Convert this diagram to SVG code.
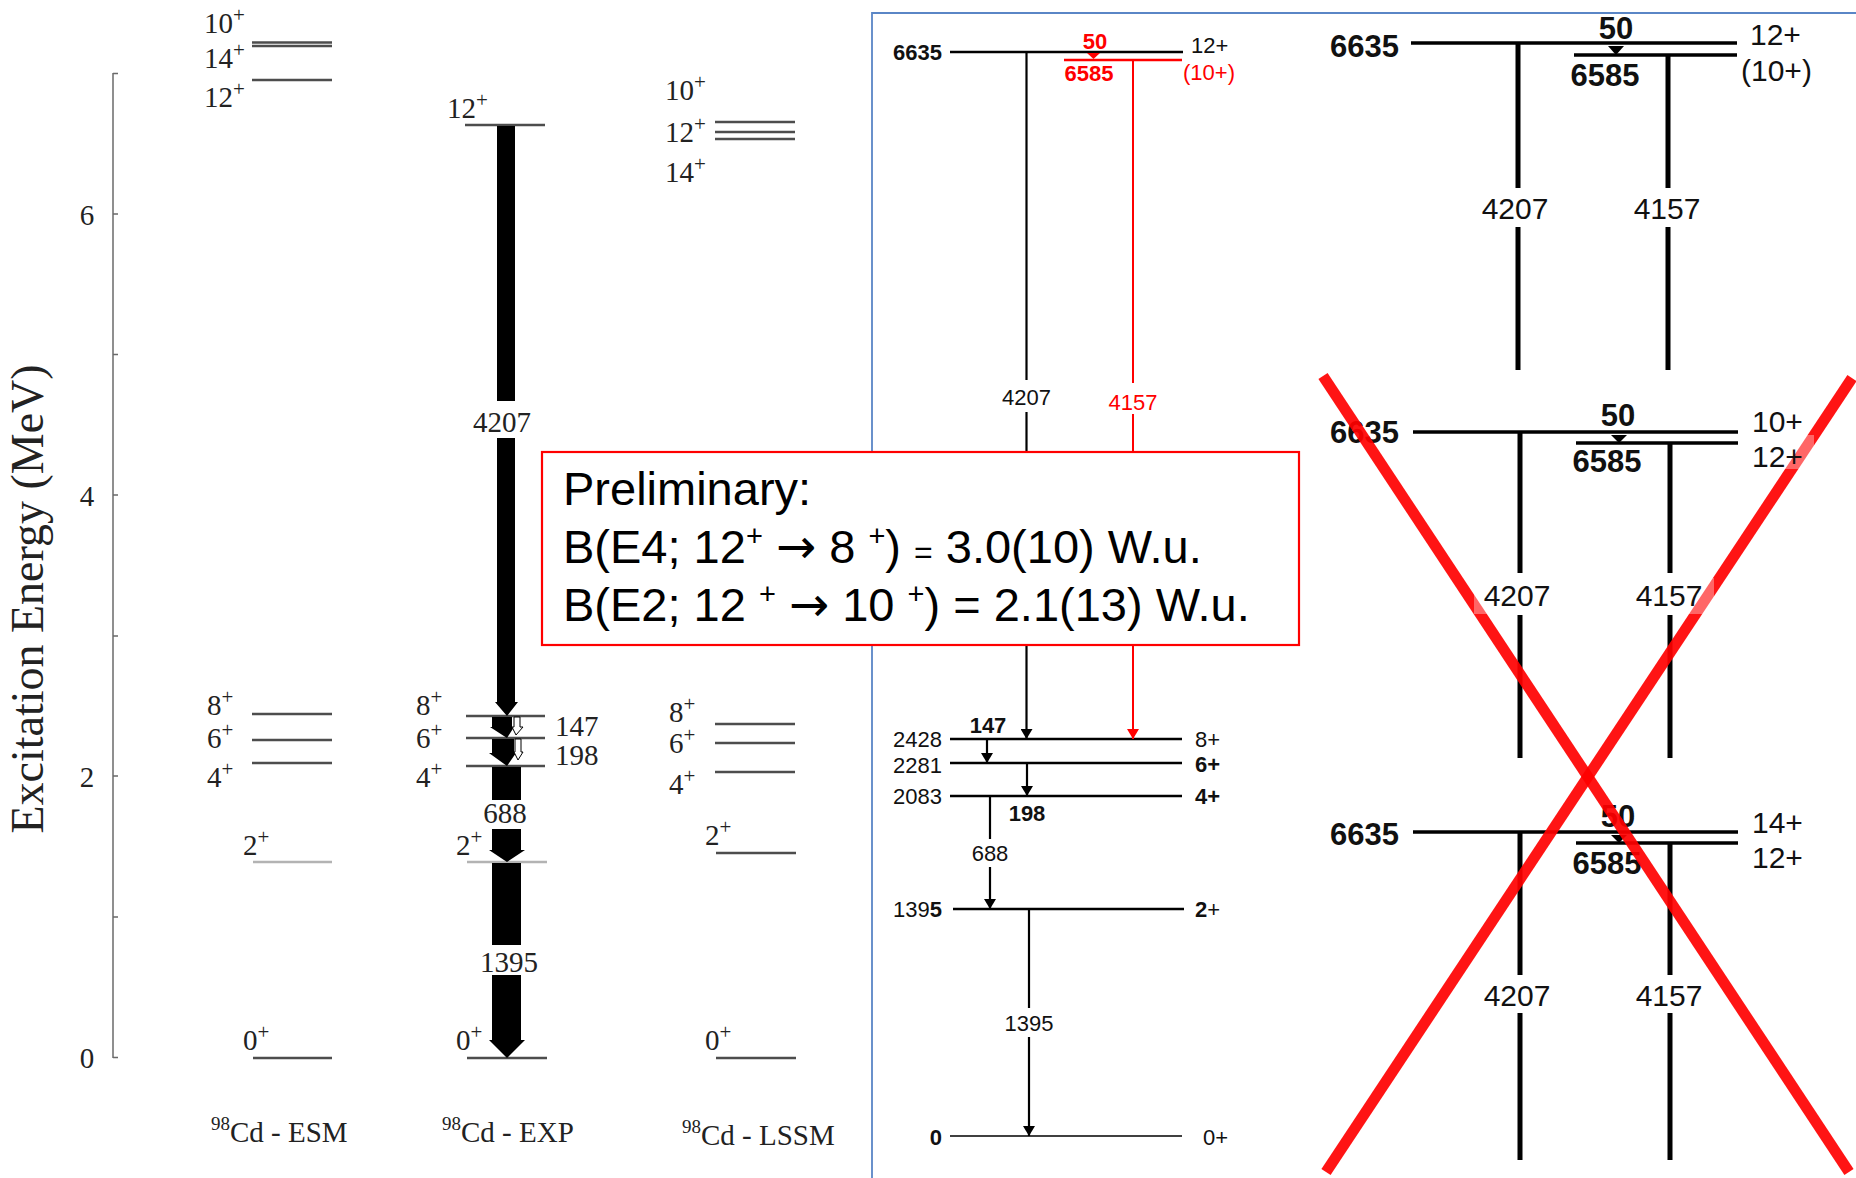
<svg xmlns="http://www.w3.org/2000/svg" width="1856" height="1178" viewBox="0 0 1856 1178">
<defs>
<style>
.bg{fill:#fff}
.ax{stroke:#6a6a6a;stroke-width:1.5;fill:none}
.lv{stroke:#4d4d4d;stroke-width:2.6}
.lvg{stroke:#b3b3b3;stroke-width:2.6}
.tm{font-family:"Liberation Serif","Times New Roman",serif;font-size:29px;fill:#222}
.tms{font-size:21px}
.ar{font-family:"Liberation Sans",Arial,sans-serif;fill:#111}
.m{font-size:22px}
.mb{font-size:22px;font-weight:bold}
.red{fill:#ff0000}
.ml{stroke:#000;stroke-width:2.4}
.mlr{stroke:#ff0000;stroke-width:2.4}
.tr{stroke:#000;stroke-width:2.2;fill:none}
.trr{stroke:#ff0000;stroke-width:2;fill:none}
.rl{stroke:#000;stroke-width:3.6}
.rv{stroke:#000;stroke-width:5}
.rt{font-size:30px}
.rb{font-size:31px;font-weight:bold}
.big{fill:#000}
.box{fill:#fff;stroke:#ff0000;stroke-width:2.2}
.bt{font-family:"Liberation Sans",Arial,sans-serif;font-size:47px;fill:#000}
.arw{font-family:"DejaVu Sans",sans-serif;font-size:48px}
.sp{font-size:29px}
.x{stroke:#ff0000;stroke-width:11;stroke-opacity:0.92}
.patch{fill:#fff;fill-opacity:0.35}
</style>
<marker id="ah" viewBox="0 0 10 12" refX="10" refY="6" markerWidth="10" markerHeight="12" markerUnits="userSpaceOnUse" orient="auto"><path d="M0,0 L10,6 L0,12 z" fill="#000"/></marker>
<marker id="ahr" viewBox="0 0 10 12" refX="10" refY="6" markerWidth="10" markerHeight="12" markerUnits="userSpaceOnUse" orient="auto"><path d="M0,0 L10,6 L0,12 z" fill="#ff0000"/></marker>
</defs>
<rect class="bg" x="0" y="0" width="1856" height="1178"/>

<!-- LEFT PANEL: axis -->
<g id="axis">
<line class="ax" x1="113" y1="73" x2="113" y2="1058"/>
<path class="ax" d="M113,1057.5h5M113,917h5M113,776h5M113,636h5M113,495h5M113,354.5h5M113,214h5M113,73.5h5"/>
<text class="tm" x="87" y="225" text-anchor="middle">6</text>
<text class="tm" x="87" y="506" text-anchor="middle">4</text>
<text class="tm" x="87" y="787" text-anchor="middle">2</text>
<text class="tm" x="87" y="1068" text-anchor="middle">0</text>
<text class="tm" style="font-size:46px" transform="translate(43,599) rotate(-90)" text-anchor="middle">Excitation Energy (MeV)</text>
</g>

<!-- ESM column -->
<g id="esm">
<line class="lv" x1="252" y1="42.5" x2="332" y2="42.5"/>
<line class="lv" x1="252" y1="46" x2="332" y2="46"/>
<line class="lv" x1="252" y1="80" x2="332" y2="80"/>
<line class="lv" x1="252" y1="714" x2="332" y2="714"/>
<line class="lv" x1="252" y1="740" x2="332" y2="740"/>
<line class="lv" x1="252" y1="763" x2="332" y2="763"/>
<line class="lvg" x1="253" y1="862" x2="332" y2="862"/>
<line class="lv" x1="253" y1="1058" x2="332" y2="1058"/>
<text class="tm" x="204" y="33">10<tspan class="tms" dy="-11">+</tspan></text>
<text class="tm" x="204" y="68">14<tspan class="tms" dy="-11">+</tspan></text>
<text class="tm" x="204" y="107">12<tspan class="tms" dy="-11">+</tspan></text>
<text class="tm" x="207" y="715">8<tspan class="tms" dy="-11">+</tspan></text>
<text class="tm" x="207" y="748">6<tspan class="tms" dy="-11">+</tspan></text>
<text class="tm" x="207" y="787">4<tspan class="tms" dy="-11">+</tspan></text>
<text class="tm" x="243" y="855">2<tspan class="tms" dy="-11">+</tspan></text>
<text class="tm" x="243" y="1050">0<tspan class="tms" dy="-11">+</tspan></text>
<text class="tm" x="211" y="1142"><tspan style="font-size:19px" dy="-12">98</tspan><tspan dy="12">Cd - ESM</tspan></text>
</g>

<!-- EXP column -->
<g id="exp">
<line class="lv" x1="465" y1="125" x2="545" y2="125"/>
<line class="lv" x1="466" y1="716" x2="545" y2="716"/>
<line class="lv" x1="466" y1="738" x2="545" y2="738"/>
<line class="lv" x1="466" y1="766" x2="545" y2="766"/>
<line class="lvg" x1="467" y1="862" x2="547" y2="862"/>
<line class="lv" x1="467" y1="1058" x2="547" y2="1058"/>
<text class="tm" x="447" y="118">12<tspan class="tms" dy="-11">+</tspan></text>
<text class="tm" x="416" y="715">8<tspan class="tms" dy="-11">+</tspan></text>
<text class="tm" x="416" y="748">6<tspan class="tms" dy="-11">+</tspan></text>
<text class="tm" x="416" y="787">4<tspan class="tms" dy="-11">+</tspan></text>
<text class="tm" x="456" y="855">2<tspan class="tms" dy="-11">+</tspan></text>
<text class="tm" x="456" y="1050">0<tspan class="tms" dy="-11">+</tspan></text>
<text class="tm" x="442" y="1142"><tspan style="font-size:19px" dy="-12">98</tspan><tspan dy="12">Cd - EXP</tspan></text>
</g>

<!-- LSSM column -->
<g id="lssm">
<line class="lv" x1="715" y1="122" x2="795" y2="122"/>
<line class="lv" x1="715" y1="132" x2="795" y2="132"/>
<line class="lv" x1="715" y1="139" x2="795" y2="139"/>
<line class="lv" x1="715" y1="724" x2="795" y2="724"/>
<line class="lv" x1="715" y1="743" x2="795" y2="743"/>
<line class="lv" x1="715" y1="772" x2="795" y2="772"/>
<line class="lv" x1="716" y1="853" x2="796" y2="853"/>
<line class="lv" x1="716" y1="1058" x2="796" y2="1058"/>
<text class="tm" x="665" y="100">10<tspan class="tms" dy="-11">+</tspan></text>
<text class="tm" x="665" y="142">12<tspan class="tms" dy="-11">+</tspan></text>
<text class="tm" x="665" y="182">14<tspan class="tms" dy="-11">+</tspan></text>
<text class="tm" x="669" y="722">8<tspan class="tms" dy="-11">+</tspan></text>
<text class="tm" x="669" y="753">6<tspan class="tms" dy="-11">+</tspan></text>
<text class="tm" x="669" y="794">4<tspan class="tms" dy="-11">+</tspan></text>
<text class="tm" x="705" y="845">2<tspan class="tms" dy="-11">+</tspan></text>
<text class="tm" x="705" y="1050">0<tspan class="tms" dy="-11">+</tspan></text>
<text class="tm" x="682" y="1145"><tspan style="font-size:19px" dy="-12">98</tspan><tspan dy="12">Cd - LSSM</tspan></text>
</g>

<!-- EXP transitions (thick arrows) -->
<g id="exp-transitions">
<rect class="big" x="497" y="126" width="18" height="275"/>
<polygon class="big" points="497,438 515,438 515,702 518,702 507,716 495,702 497,702"/>
<polygon class="big" points="492,717 512,717 512,727 514,727 507,738 490,727 492,727"/>
<polygon points="514,717 520,717 520,727 523,727 516,735 512,727 514,727" fill="#fff" stroke="#000" stroke-width="1"/>
<polygon class="big" points="492,739 514,739 514,753 516,753 507,766 489,753 492,753"/>
<polygon points="515,739 521,739 521,752 523,752 518,760 514,752 515,752" fill="#fff" stroke="#000" stroke-width="1"/>
<rect class="big" x="492" y="767" width="29" height="33"/>
<polygon class="big" points="492,829 521,829 521,850 525,850 507,862 489,850 492,850"/>
<rect class="big" x="492" y="863" width="29" height="82"/>
<polygon class="big" points="492,975 521,975 521,1040 525,1040 507,1058 489,1040 492,1040"/>
<text class="tm" x="502" y="432" text-anchor="middle">4207</text>
<text class="tm" x="555" y="736">147</text>
<text class="tm" x="555" y="765">198</text>
<text class="tm" x="505" y="823" text-anchor="middle">688</text>
<text class="tm" x="509" y="972" text-anchor="middle">1395</text>
</g>

<!-- MIDDLE PANEL -->
<g id="frame">
<path d="M872,1178V13H1856" fill="none" stroke="#5a86c6" stroke-width="1.8"/>
</g>
<g id="m-6635" class="ar">
<line class="ml" x1="950" y1="52" x2="1183" y2="52"/>
<text class="mb" x="942" y="60" text-anchor="end">6635</text>
<text class="m" x="1191" y="53">12+</text>
</g>
<g id="m-6585" class="ar">
<line class="mlr" x1="1064" y1="60" x2="1182" y2="60"/>
<text class="mb red" x="1089" y="81" text-anchor="middle">6585</text>
<text class="m red" x="1183" y="80">(10+)</text>
</g>
<g id="m-2428" class="ar">
<line class="ml" x1="950" y1="739" x2="1182" y2="739"/>
<text class="m" x="942" y="747" text-anchor="end">2428</text>
<text class="m" x="1195" y="747">8+</text>
</g>
<g id="m-2281" class="ar">
<line class="ml" x1="950" y1="763" x2="1182" y2="763"/>
<text class="m" x="942" y="773" text-anchor="end">2281</text>
<text class="mb" x="1195" y="772">6+</text>
</g>
<g id="m-2083" class="ar">
<line class="ml" x1="950" y1="796" x2="1182" y2="796"/>
<text class="m" x="942" y="804" text-anchor="end">2083</text>
<text class="mb" x="1195" y="804">4+</text>
</g>
<g id="m-1395" class="ar">
<line class="ml" x1="953" y1="909" x2="1184" y2="909"/>
<text class="m" x="942" y="917" text-anchor="end">139<tspan font-weight="bold">5</tspan></text>
<text class="m" x="1195" y="917"><tspan font-weight="bold">2</tspan>+</text>
</g>
<g id="m-0" class="ar">
<line class="ml" x1="950" y1="1136" x2="1182" y2="1136" style="stroke-width:1.6"/>
<text class="mb" x="942" y="1145" text-anchor="end">0</text>
<text class="m" x="1203" y="1145">0+</text>
</g>
<g id="m-transitions" class="ar">
<polygon points="1087,53 1100,53 1093.5,59" fill="#ff0000"/>
<text class="mb red" x="1095" y="49" text-anchor="middle">50</text>
<path class="tr" d="M1026.5,53V380M1026.5,412V739" marker-end="url(#ah)"/>
<text class="m" x="1026.5" y="405" text-anchor="middle">4207</text>
<path class="trr" d="M1133,61V383M1133,414V739" marker-end="url(#ahr)"/>
<text class="m red" x="1133" y="410" text-anchor="middle">4157</text>
<path class="tr" d="M987,740V763" marker-end="url(#ah)"/>
<text class="mb" x="988" y="733" text-anchor="middle">147</text>
<path class="tr" d="M1027,764V796" marker-end="url(#ah)"/>
<text class="mb" x="1027" y="821" text-anchor="middle">198</text>
<path class="tr" d="M990,797V839M990,867V909" marker-end="url(#ah)"/>
<text class="m" x="990" y="861" text-anchor="middle">688</text>
<path class="tr" d="M1029,910V1008M1029,1037V1136" marker-end="url(#ah)"/>
<text class="m" x="1029" y="1031" text-anchor="middle">1395</text>
</g>

<!-- PRELIMINARY BOX -->
<g id="prelim">
<rect class="box" x="542" y="452" width="757" height="193"/>
<text class="bt" x="563" y="505">Preliminary:</text>
<text class="bt" x="563" y="563">B(E4; 12<tspan class="sp" dy="-17">+</tspan><tspan dy="17"> </tspan><tspan class="arw">→</tspan><tspan> 8 </tspan><tspan class="sp" dy="-17">+</tspan><tspan dy="17">)  </tspan><tspan font-size="32">=</tspan> 3.0(10) W.u.</text>
<text class="bt" x="563" y="621">B(E2; 12 <tspan class="sp" dy="-17">+</tspan><tspan dy="17"> </tspan><tspan class="arw">→</tspan><tspan> 10 </tspan><tspan class="sp" dy="-17">+</tspan><tspan dy="17">) = 2.1(13) W.u.</tspan></text>
</g>

<!-- RIGHT PANEL -->
<g id="r-block1" class="ar">
<line class="rl" x1="1411" y1="43" x2="1737" y2="43"/>
<line class="rl" x1="1574" y1="55" x2="1737" y2="55"/>
<polygon points="1608,46 1624,46 1616,55" fill="#000"/>
<line class="rv" x1="1518" y1="43" x2="1518" y2="188"/>
<line class="rv" x1="1518" y1="227" x2="1518" y2="370"/>
<line class="rv" x1="1668" y1="55" x2="1668" y2="188"/>
<line class="rv" x1="1668" y1="227" x2="1668" y2="370"/>
<text class="rb" x="1399" y="57" text-anchor="end">6635</text>
<text class="rb" x="1616" y="39" text-anchor="middle">50</text>
<text class="rb" x="1605" y="86" text-anchor="middle">6585</text>
<text class="rt" x="1750" y="45">12+</text>
<text class="rt" x="1741" y="81">(10+)</text>
<text class="rt" x="1515" y="219" text-anchor="middle">4207</text>
<text class="rt" x="1667" y="219" text-anchor="middle">4157</text>
</g>
<g id="r-block2" class="ar">
<line class="rl" x1="1413" y1="432" x2="1738" y2="432"/>
<line class="rl" x1="1576" y1="443" x2="1738" y2="443"/>
<polygon points="1611,435 1627,435 1619,443" fill="#000"/>
<line class="rv" x1="1520" y1="432" x2="1520" y2="573"/>
<line class="rv" x1="1520" y1="615" x2="1520" y2="758"/>
<line class="rv" x1="1670" y1="443" x2="1670" y2="573"/>
<line class="rv" x1="1670" y1="615" x2="1670" y2="758"/>
<text class="rb" x="1399" y="443" text-anchor="end">6635</text>
<text class="rb" x="1618" y="426" text-anchor="middle">50</text>
<text class="rb" x="1607" y="472" text-anchor="middle">6585</text>
<text class="rt" x="1752" y="432">10+</text>
</g>
<g id="r-block3" class="ar">
<line class="rl" x1="1413" y1="832" x2="1738" y2="832"/>
<line class="rl" x1="1576" y1="843" x2="1738" y2="843"/>
<polygon points="1611,835 1627,835 1619,843" fill="#000"/>
<line class="rv" x1="1520" y1="832" x2="1520" y2="975"/>
<line class="rv" x1="1520" y1="1013" x2="1520" y2="1160"/>
<line class="rv" x1="1670" y1="843" x2="1670" y2="975"/>
<line class="rv" x1="1670" y1="1013" x2="1670" y2="1160"/>
<text class="rb" x="1399" y="845" text-anchor="end">6635</text>
<text class="rb" x="1618" y="827" text-anchor="middle">50</text>
<text class="rb" x="1607" y="874" text-anchor="middle">6585</text>
<text class="rt" x="1752" y="833">14+</text>
<text class="rt" x="1752" y="868">12+</text>
<text class="rt" x="1517" y="1006" text-anchor="middle">4207</text>
<text class="rt" x="1669" y="1006" text-anchor="middle">4157</text>
</g>

<!-- RED CROSS -->
<g id="cross">
<line class="x" x1="1323" y1="376" x2="1849" y2="1172"/>
<line class="x" x1="1852" y1="378" x2="1326" y2="1172"/>
</g>

<!-- block 2 labels with translucent backgrounds, drawn above the cross -->
<g id="r-block2-labels" class="ar">
<rect class="patch" x="1474" y="578" width="82" height="36"/>
<rect class="patch" x="1628" y="578" width="86" height="36"/>
<rect class="patch" x="1748" y="435" width="66" height="34"/>
<text class="rt" x="1752" y="467">12+</text>
<text class="rt" x="1517" y="606" text-anchor="middle">4207</text>
<text class="rt" x="1669" y="606" text-anchor="middle">4157</text>
</g>
</svg>
